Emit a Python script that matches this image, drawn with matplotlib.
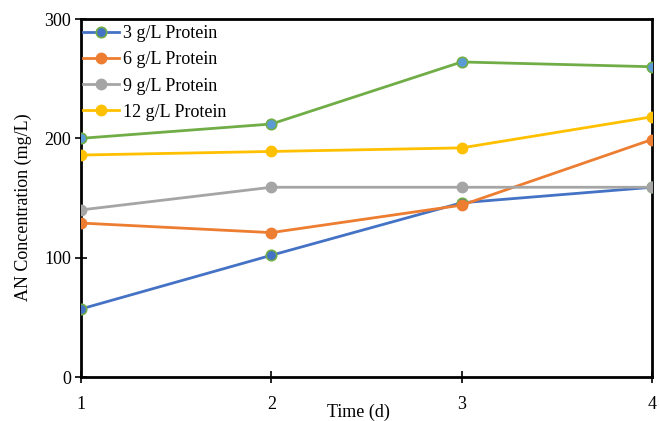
import matplotlib
matplotlib.use("Agg")
import matplotlib.pyplot as plt

days = [1, 2, 3, 4]
protein_3 = [57, 102, 146, 159]
protein_6 = [129, 121, 144, 199]
protein_9 = [140, 159, 159, 159]
protein_12 = [186, 189, 192, 218]
extra_series = [200, 212, 264, 260]
labels = ["3 g/L Protein", "6 g/L Protein", "9 g/L Protein", "12 g/L Protein"]
y_ticks = [0, 100, 200, 300]

plt.rcParams['font.family'] = ['Liberation Serif', 'DejaVu Serif']

fig = plt.figure(figsize=(6.6, 4.21), dpi=100)
ax = fig.add_axes([81/660, 1-377/421, (652-81)/660, (377-19)/421])

lw = 2.0
ms = 7.5
ax.plot(days, protein_3, color='#4472C4', lw=lw, marker='o', ms=ms,
        mfc='#4472C4', mec='#70AD47', mew=1.2, label=labels[0], zorder=3)
ax.plot(days, protein_6, color='#ED7D31', lw=lw, marker='o', ms=ms,
        mfc='#ED7D31', mec='#ED7D31', label=labels[1], zorder=3)
ax.plot(days, protein_9, color='#A5A5A5', lw=lw, marker='o', ms=ms,
        mfc='#A5A5A5', mec='#A5A5A5', label=labels[2], zorder=3)
ax.plot(days, protein_12, color='#FFC000', lw=lw, marker='o', ms=ms,
        mfc='#FFC000', mec='#FFC000', label=labels[3], zorder=3)
ax.plot(days, extra_series, color='#70AD47', lw=lw, marker='o', ms=ms,
        mfc='#5B9BD5', mec='#70AD47', mew=1.2, zorder=3)

ax.set_xlim(1, 4)
ax.set_ylim(0, 300)
ax.set_xticks(days)
ax.set_yticks(y_ticks)
for sp in ax.spines.values():
    sp.set_linewidth(2.0)
    sp.set_color('black')
ax.tick_params(axis='both', direction='inout', length=8, width=1.2,
               labelsize=13, colors='black')
ax.tick_params(axis='x', pad=10)
ax.tick_params(axis='y', pad=3)

ax.set_xlabel("Time (d)", fontsize=13)
ax.xaxis.set_label_coords(0.486, -0.075)
ax.set_ylabel("AN Concentration (mg/L)", fontsize=13)
ax.yaxis.set_label_coords(-0.085, 0.475)

leg = ax.legend(loc='upper left', bbox_to_anchor=(0.0, 0.987), frameon=False,
                fontsize=13, handlelength=2.0, handletextpad=0.2,
                labelspacing=0.5, borderaxespad=0.0, borderpad=0.1)

fig.savefig("out.png", dpi=100)
